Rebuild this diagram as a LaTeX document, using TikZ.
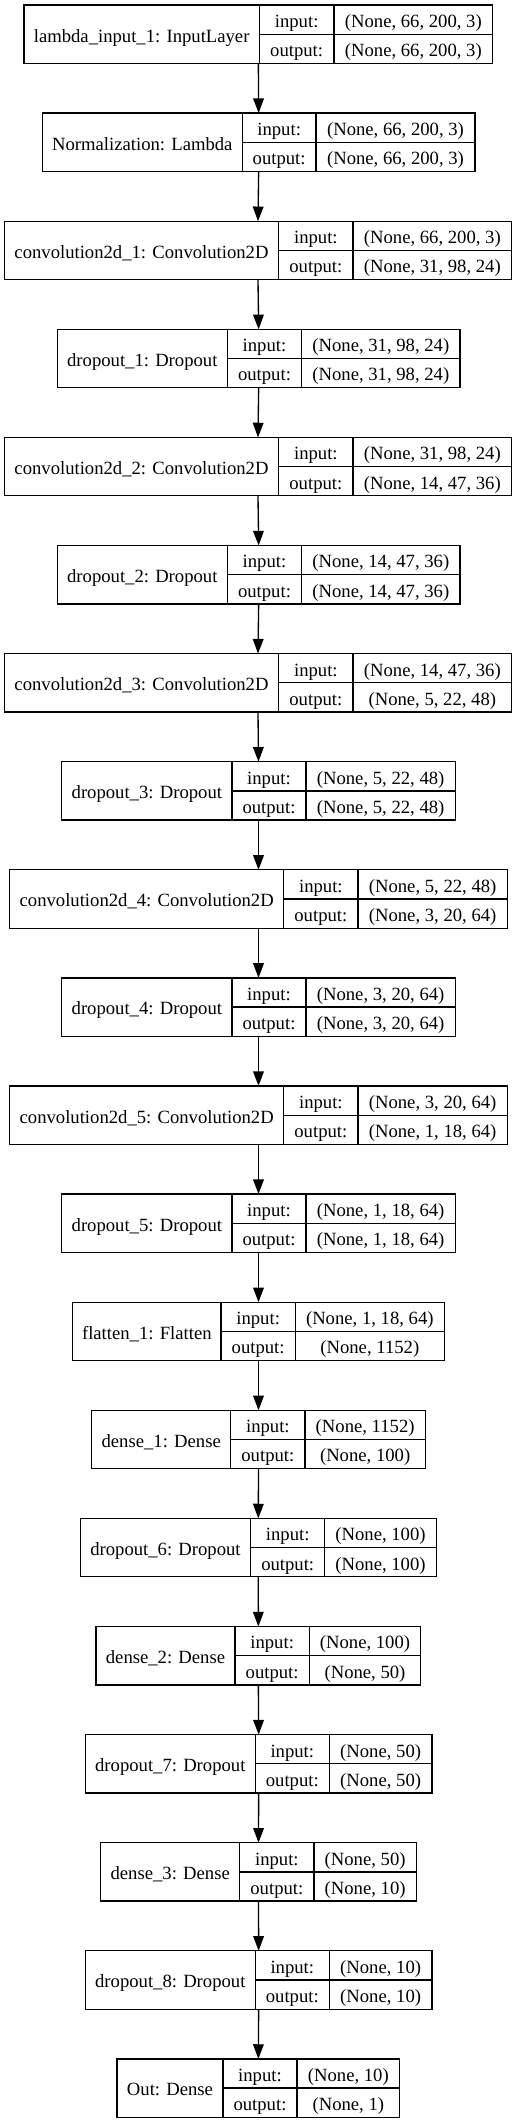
\documentclass[tikz,border=0pt]{standalone}
\usepackage{fontspec}
\setmainfont{Liberation Serif}
\usetikzlibrary{fit,arrows.meta}
\tikzset{
  lbl/.style={inner sep=0pt, outer sep=0pt, anchor=center, font=\fontsize{14}{16}\selectfont, text height=11.8pt, text depth=0pt},
  outerbox/.style={draw=black, line width=1pt, inner sep=0pt, outer sep=0pt},
  rule/.style={draw=black, line width=1pt},
  conn/.style={draw=black, line width=1pt, -{Triangle[length=11pt,width=8pt]}}
}
\newcommand\layerbox[9]{%
  \pgfmathsetmacro\lyB{#2+58.4}%
  \pgfmathsetmacro\lyM{#2+29.2}%
  \pgfmathsetmacro\lyC{#2+14.6}%
  \pgfmathsetmacro\lyD{#2+43.8}%
  \pgfmathsetmacro\lxA{(#3+#4)/2}%
  \pgfmathsetmacro\lxB{(#4+#5)/2}%
  \pgfmathsetmacro\lxC{(#5+#6)/2}%
  \node[outerbox, fit={(#3,#2) (#6,\lyB)}] (#1) {};
  \draw[rule] (#4,#2) -- (#4,\lyB) (#5,#2) -- (#5,\lyB) (#4,\lyM) -- (#6,\lyM);
  \node[lbl] (#1l) at (\lxA,\lyM) {#7};
  \node[lbl] (#1i) at (\lxB,\lyC) {input:};
  \node[lbl] (#1o) at (\lxB,\lyD) {output:};
  \node[lbl] (#1a) at (\lxC,\lyC) {#8};
  \node[lbl] (#1b) at (\lxC,\lyD) {#9};
}
\begin{document}
\begin{tikzpicture}[x=0.75pt,y=-0.75pt]
\useasboundingbox (0,0) rectangle (517,2123);
\layerbox{n1}{5}{24}{259.3}{334}{492.7}{lambda\_input\_1: InputLayer}{(None, 66, 200, 3)}{(None, 66, 200, 3)}
\layerbox{n2}{113.1}{42.3}{242.3}{316}{475}{Normalization: Lambda}{(None, 66, 200, 3)}{(None, 66, 200, 3)}
\layerbox{n3}{221.2}{4.3}{278.7}{353}{511.7}{convolution2d\_1: Convolution2D}{(None, 66, 200, 3)}{(None, 31, 98, 24)}
\layerbox{n4}{329.3}{57.3}{227.3}{301.7}{460}{dropout\_1: Dropout}{(None, 31, 98, 24)}{(None, 31, 98, 24)}
\layerbox{n5}{437.4}{4.3}{278.7}{353}{511.7}{convolution2d\_2: Convolution2D}{(None, 31, 98, 24)}{(None, 14, 47, 36)}
\layerbox{n6}{545.5}{57.3}{227.3}{301.7}{460}{dropout\_2: Dropout}{(None, 14, 47, 36)}{(None, 14, 47, 36)}
\layerbox{n7}{653.6}{4.3}{278.7}{353}{511.7}{convolution2d\_3: Convolution2D}{(None, 14, 47, 36)}{(None, 5, 22, 48)}
\layerbox{n8}{761.7}{61.7}{232}{306}{455.3}{dropout\_3: Dropout}{(None, 5, 22, 48)}{(None, 5, 22, 48)}
\layerbox{n9}{869.8}{9.7}{283.7}{358}{507.3}{convolution2d\_4: Convolution2D}{(None, 5, 22, 48)}{(None, 3, 20, 64)}
\layerbox{n10}{977.9}{61.7}{232}{306}{455.3}{dropout\_4: Dropout}{(None, 3, 20, 64)}{(None, 3, 20, 64)}
\layerbox{n11}{1086}{9.7}{283.7}{358}{507.3}{convolution2d\_5: Convolution2D}{(None, 3, 20, 64)}{(None, 1, 18, 64)}
\layerbox{n12}{1194.1}{61.7}{232}{306}{455.3}{dropout\_5: Dropout}{(None, 1, 18, 64)}{(None, 1, 18, 64)}
\layerbox{n13}{1302.2}{72.7}{221}{295.3}{444.3}{flatten\_1: Flatten}{(None, 1, 18, 64)}{(None, 1152)}
\layerbox{n14}{1410.3}{91.7}{230.7}{305}{425.3}{dense\_1: Dense}{(None, 1152)}{(None, 100)}
\layerbox{n15}{1518.4}{80.3}{250.7}{324.7}{436.3}{dropout\_6: Dropout}{(None, 100)}{(None, 100)}
\layerbox{n16}{1626.5}{96}{235}{309.3}{420.7}{dense\_2: Dense}{(None, 100)}{(None, 50)}
\layerbox{n17}{1734.6}{85.3}{255.3}{329.3}{432}{dropout\_7: Dropout}{(None, 50)}{(None, 50)}
\layerbox{n18}{1842.7}{100.7}{239.7}{314}{416.3}{dense\_3: Dense}{(None, 50)}{(None, 10)}
\layerbox{n19}{1950.8}{85.3}{255.3}{329.3}{432}{dropout\_8: Dropout}{(None, 10)}{(None, 10)}
\layerbox{n20}{2058.9}{117}{223}{297}{399.7}{Out: Dense}{(None, 10)}{(None, 1)}
\foreach \a/\b in {n1/n2,n2/n3,n3/n4,n4/n5,n5/n6,n6/n7,n7/n8,n8/n9,n9/n10,n10/n11,n11/n12,n12/n13,n13/n14,n14/n15,n15/n16,n16/n17,n17/n18,n18/n19,n19/n20}
  \draw[conn] (\a.south) -- (\b.north);
\end{tikzpicture}
\end{document}
